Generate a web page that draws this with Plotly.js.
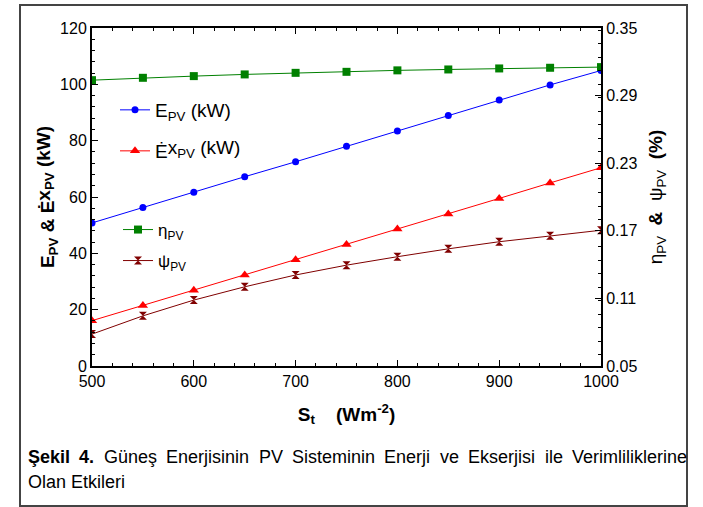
<!DOCTYPE html>
<html>
<head>
<meta charset="utf-8">
<script src="https://cdn.plot.ly/plotly-3.0.1.min.js"></script>
<style>
  html, body { margin: 0; padding: 0; background: #fff; }
  #chart { width: 703px; height: 507px; }
</style>
</head>
<body>
<div id="chart"></div>
<script>
// ---- data ----
const irradiance = [500, 550, 600, 650, 700, 750, 800, 850, 900, 950, 1000];          // S_t (W/m2)
const energyPV   = [50.8, 56.3, 61.7, 67.2, 72.5, 78.0, 83.4, 88.9, 94.4, 99.8, 104.9];   // kW
const exergyPV   = [16.1, 21.5, 26.9, 32.3, 37.7, 43.1, 48.6, 54.0, 59.5, 65.0, 70.4];    // kW
const etaPV      = [0.3037, 0.3058, 0.3073, 0.3088, 0.3102, 0.3111, 0.3124, 0.3132, 0.3141, 0.3147, 0.3153];
const psiPV      = [0.0783, 0.0945, 0.1085, 0.1203, 0.1308, 0.1395, 0.1470, 0.1540, 0.1603, 0.1655, 0.1705];

const seriesNames = ['E<sub>PV</sub> (kW)', 'Ė<sub></sub>x<sub>PV</sub> (kW)', 'η<sub>PV</sub>', 'ψ<sub>PV</sub>'];
const captionLine1 = ['Şekil', '4.', 'Güneş', 'Enerjisinin', 'PV', 'Sisteminin', 'Enerji', 've', 'Ekserjisi', 'ile', 'Verimliliklerine'];
const captionLine2 = ['Olan', 'Etkileri'];
const captionBoldWords = 2;

// ---- layout helpers (pixel -> paper) ----
const PL = 92, PR = 601, PT = 28, PB = 366;
const px = v => (v - PL) / (PR - PL);
const py = v => (PB - v) / (PB - PT);

const FONT = 'Arial, "Liberation Sans", sans-serif';
const CAP_FAMILY = '"Liberation Sans", Arial, sans-serif';
const CAP_SIZE = 18;

// justified caption: measure words and spread them between the caption margins
const cvs = document.createElement('canvas').getContext('2d');
function wordWidth(w, bold) {
  cvs.font = (bold ? 'bold ' : '') + CAP_SIZE + 'px ' + CAP_FAMILY;
  return cvs.measureText(w).width;
}
function layoutLine(words, left, right, justify, boldCount) {
  const widths = words.map((w, i) => wordWidth(w, i < boldCount));
  const total = widths.reduce((a, b) => a + b, 0);
  const gap = justify ? (right - left - total) / (words.length - 1) : wordWidth(' ', false);
  const xs = [];
  let x = left;
  widths.forEach(wd => { xs.push(x); x += wd + gap; });
  return xs;
}
const line1X = layoutLine(captionLine1, 27, 686, true, captionBoldWords);
const line2X = layoutLine(captionLine2, 27, 686, false, 0);

const annotations = [];
captionLine1.forEach((w, i) => annotations.push({
  text: i < captionBoldWords ? '<b>' + w + '</b>' : w,
  xref: 'paper', yref: 'paper', x: px(line1X[i]), y: py(457), xanchor: 'left', yanchor: 'middle',
  showarrow: false, borderpad: 0, font: {family: CAP_FAMILY, size: CAP_SIZE, color: '#000'}
}));
captionLine2.forEach((w, i) => annotations.push({
  text: w, xref: 'paper', yref: 'paper', x: px(line2X[i]), y: py(482), xanchor: 'left', yanchor: 'middle',
  showarrow: false, borderpad: 0, font: {family: CAP_FAMILY, size: CAP_SIZE, color: '#000'}
}));

const traces = [
  {x: irradiance, y: energyPV, name: seriesNames[0], type: 'scatter', mode: 'lines+markers',
   line: {color: '#0000FF', width: 1}, marker: {symbol: 'circle', size: 7, color: '#0000FF'},
   legend: 'legend'},
  {x: irradiance, y: exergyPV, name: seriesNames[1], type: 'scatter', mode: 'lines+markers',
   line: {color: '#FF0000', width: 1}, marker: {symbol: 'triangle-up', size: 9, color: '#FF0000'},
   legend: 'legend2'},
  {x: irradiance, y: etaPV, name: seriesNames[2], type: 'scatter', mode: 'lines+markers', yaxis: 'y2',
   line: {color: '#008000', width: 1}, marker: {symbol: 'square', size: 8, color: '#008000'},
   legend: 'legend3'},
  {x: irradiance, y: psiPV, name: seriesNames[3], type: 'scatter', mode: 'lines+markers', yaxis: 'y2',
   line: {color: '#800000', width: 1}, marker: {symbol: 'hourglass', size: 8, color: '#800000'},
   legend: 'legend4'}
];

const legendBase = {bgcolor: 'rgba(0,0,0,0)', borderwidth: 0, xanchor: 'left', yanchor: 'middle',
                    itemclick: false, tracegroupgap: 0};

const layout = {
  width: 703, height: 507,
  margin: {l: PL, r: 703 - PR, t: PT, b: 507 - PB},
  paper_bgcolor: '#fff', plot_bgcolor: '#fff',
  font: {family: FONT, color: '#000'},
  showlegend: true,
  xaxis: {
    range: [500, 1000], dtick: 100, tick0: 500,
    showline: true, linecolor: '#000', linewidth: 2, mirror: 'ticks',
    ticks: 'inside', ticklen: 6, tickwidth: 1, tickcolor: '#000',
    minor: {dtick: 20, ticks: 'inside', ticklen: 3, tickcolor: '#000'},
    showgrid: false, zeroline: false,
    tickfont: {family: FONT, size: 16, color: '#000'},
    title: {text: '<b>S<sub>t</sub>    (Wm<sup>-2</sup>)</b>', font: {family: FONT, size: 19, color: '#000'}, standoff: 18}
  },
  yaxis: {
    range: [0, 120], dtick: 20,
    showline: true, linecolor: '#000', linewidth: 2,
    ticks: 'inside', ticklen: 6, tickwidth: 1, tickcolor: '#000',
    minor: {dtick: 4, ticks: 'inside', ticklen: 3, tickcolor: '#000'},
    showgrid: false, zeroline: false,
    tickfont: {family: FONT, size: 16, color: '#000'},
    title: {text: '<b>E<sub>PV</sub> & Ė<sub></sub>x<sub>PV</sub> (kW)</b>', font: {family: FONT, size: 19, color: '#000'}, standoff: 0}
  },
  yaxis2: {
    overlaying: 'y', side: 'right', range: [0.05, 0.35], dtick: 0.06, tick0: 0.05,
    tickformat: '.2f',
    showline: true, linecolor: '#000', linewidth: 2,
    ticks: 'inside', ticklen: 6, tickwidth: 1, tickcolor: '#000',
    minor: {dtick: 0.012, ticks: 'inside', ticklen: 3, tickcolor: '#000'},
    showgrid: false, zeroline: false,
    tickfont: {family: FONT, size: 16, color: '#000'},
    title: {text: 'η<sub>PV</sub>  <b>&</b>  ψ<sub>PV</sub>  <b>(%)</b>', font: {family: FONT, size: 19, color: '#000'}, standoff: 12}
  },
  legend:  Object.assign({}, legendBase, {x: px(115), y: py(110), font: {family: FONT, size: 19, color: '#000'}}),
  legend2: Object.assign({}, legendBase, {x: px(115), y: py(151), font: {family: FONT, size: 19, color: '#000'}}),
  legend3: Object.assign({}, legendBase, {x: px(118), y: py(230), font: {family: FONT, size: 17, color: '#000'}}),
  legend4: Object.assign({}, legendBase, {x: px(118), y: py(261), font: {family: FONT, size: 17, color: '#000'}}),
  shapes: [{
    type: 'rect', xref: 'paper', yref: 'paper', layer: 'below',
    x0: px(20), x1: px(687), y0: py(506), y1: py(5),
    line: {color: '#444', width: 2}, fillcolor: 'rgba(0,0,0,0)'
  }],
  annotations: annotations
};

Plotly.newPlot('chart', traces, layout, {displayModeBar: false, staticPlot: true});
</script>
</body>
</html>
